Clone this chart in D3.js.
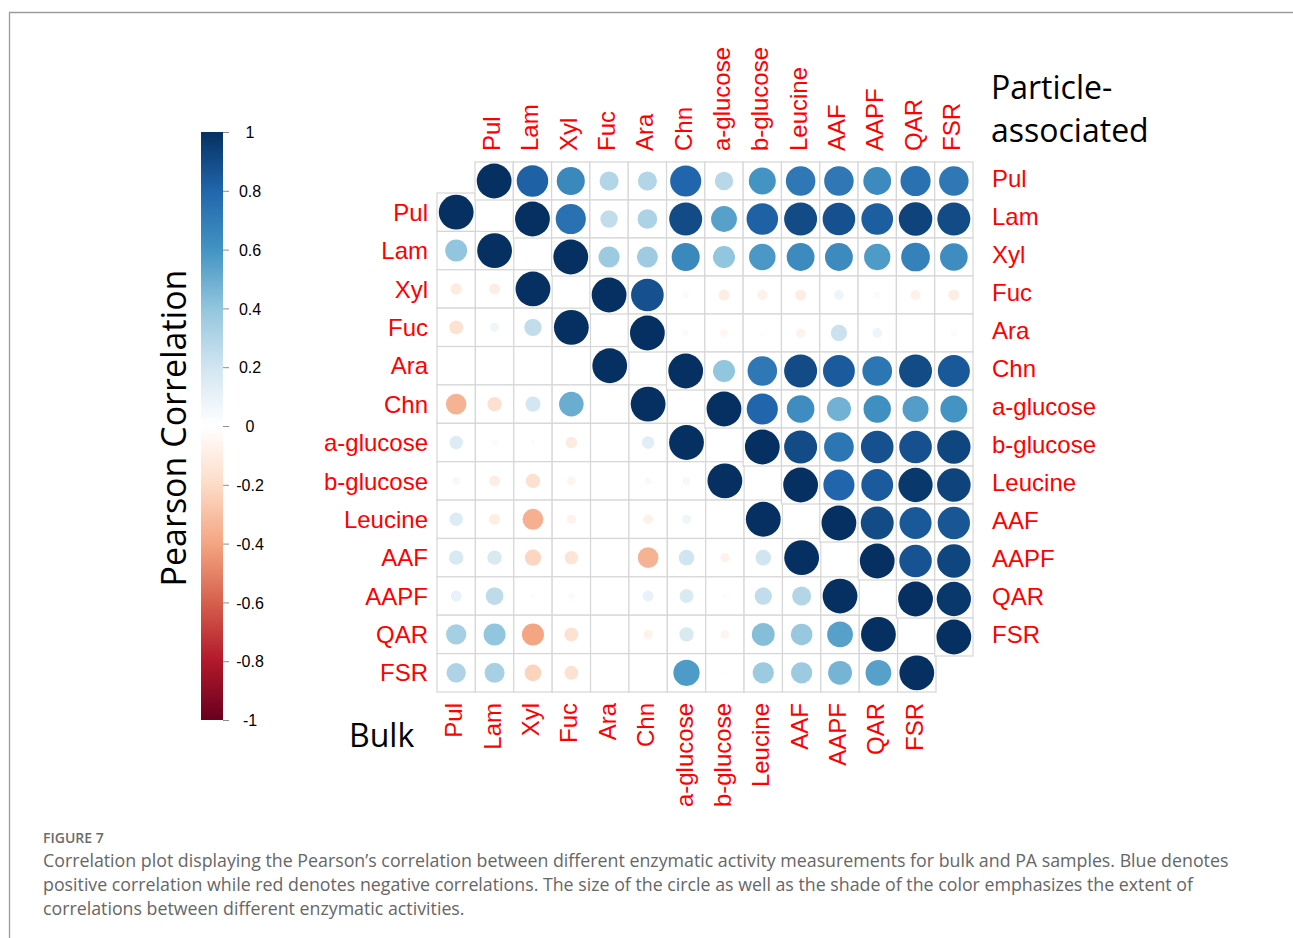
<!DOCTYPE html>
<html>
<head>
<meta charset="utf-8">
<script src="https://cdn.jsdelivr.net/npm/d3@7"></script>
<style>
  html, body { margin: 0; padding: 0; background: #fff; }
  svg { display: block; }
</style>
</head>
<body>
<svg id="fig" width="1293" height="938"></svg>
<script>
// Enzymatic activities (row / column order of both matrices)
const variables = ["Pul", "Lam", "Xyl", "Fuc", "Ara", "Chn", "a-glucose", "b-glucose", "Leucine", "AAF", "AAPF", "QAR", "FSR"];

// Particle-associated correlations: each row runs from the diagonal to FSR
const paPul   = [1, 0.82, 0.65, 0.30, 0.30, 0.80, 0.28, 0.60, 0.72, 0.72, 0.64, 0.75, 0.72];
const paLam   = [1, 0.75, 0.25, 0.32, 0.90, 0.55, 0.82, 0.90, 0.88, 0.83, 0.93, 0.90];
const paXyl   = [1, 0.37, 0.36, 0.65, 0.40, 0.58, 0.64, 0.64, 0.57, 0.68, 0.63];
const paFuc   = [1, 0.88, 0.03, -0.10, -0.08, -0.10, 0.08, -0.03, -0.08, -0.10];
const paAra   = [1, 0.03, -0.05, -0.02, -0.07, 0.22, 0.08, 0.00, -0.03];
const paChn   = [1, 0.40, 0.72, 0.90, 0.84, 0.73, 0.90, 0.85];
const paAglu  = [1, 0.80, 0.63, 0.48, 0.62, 0.56, 0.60];
const paBglu  = [1, 0.90, 0.73, 0.88, 0.88, 0.92];
const paLeu   = [1, 0.80, 0.84, 0.97, 0.93];
const paAAF   = [1, 0.90, 0.85, 0.86];
const paAAPF  = [1, 0.87, 0.92];
const paQAR   = [1, 0.97];
const paFSR   = [1];

// Bulk correlations: each row runs from Pul up to the diagonal
const bulkPul  = [1];
const bulkLam  = [0.40, 1];
const bulkXyl  = [-0.11, -0.10, 1];
const bulkFuc  = [-0.16, 0.07, 0.25, 1];
const bulkAra  = [0, 0, 0, 0, 1];
const bulkChn  = [-0.35, -0.17, 0.19, 0.50, 0, 1];
const bulkAglu = [0.15, -0.03, 0.02, -0.11, 0, 0.13, 1];
const bulkBglu = [0.05, -0.10, -0.17, -0.06, 0, 0.04, 0.05, 1];
const bulkLeu  = [0.15, -0.10, -0.36, -0.07, 0, -0.08, 0.07, 0.00, 1];
const bulkAAF  = [0.17, 0.17, -0.22, -0.15, 0, -0.35, 0.20, -0.07, 0.20, 1];
const bulkAAPF = [0.10, 0.26, 0.02, -0.03, 0, 0.10, 0.16, -0.02, 0.25, 0.30, 1];
const bulkQAR  = [0.34, 0.40, -0.40, -0.16, 0, -0.07, 0.17, -0.06, 0.43, 0.38, 0.55, 1];
const bulkFSR  = [0.31, 0.33, -0.23, -0.16, 0, 0.01, 0.57, 0.01, 0.37, 0.37, 0.47, 0.55, 1];

// Colour legend
const legendTicks = [-1, -0.8, -0.6, -0.4, -0.2, 0, 0.2, 0.4, 0.6, 0.8, 1];
const legendTickLabels = ["-1", "-0.8", "-0.6", "-0.4", "-0.2", "0", "0.2", "0.4", "0.6", "0.8", "1"];
const rdbu = ["#67001F", "#B2182B", "#D6604D", "#F4A582", "#FDDBC7", "#FFFFFF",
              "#D1E5F0", "#92C5DE", "#4393C3", "#2166AC", "#053061"];

const captionTitle = "FIGURE 7";
const captionLines = [
  "Correlation plot displaying the Pearson\u2019s correlation between different enzymatic activity measurements for bulk and PA samples. Blue denotes",
  "positive correlation while red denotes negative correlations. The size of the circle as well as the shade of the color emphasizes the extent of",
  "correlations between different enzymatic activities."
];

const paRows = [paPul, paLam, paXyl, paFuc, paAra, paChn, paAglu, paBglu, paLeu, paAAF, paAAPF, paQAR, paFSR];
const bulkRows = [bulkPul, bulkLam, bulkXyl, bulkFuc, bulkAra, bulkChn, bulkAglu, bulkBglu, bulkLeu, bulkAAF, bulkAAPF, bulkQAR, bulkFSR];

// Flatten into cell records
const paCells = [];
paRows.forEach((row, i) => row.forEach((v, k) => paCells.push({ r: variables[i], c: variables[i + k], v })));
const bulkCells = [];
bulkRows.forEach((row, i) => row.forEach((v, j) => bulkCells.push({ r: variables[i], c: variables[j], v })));

const svg = d3.select("#fig");
const labelFont = "'Liberation Sans', Arial, sans-serif";
const titleFont = "'Open Sans', 'Noto Sans', sans-serif";
const red = "#FF0000";

// Page frame
svg.append("path")
  .attr("d", "M9.5,938 V12.5 H1293")
  .attr("fill", "none").attr("stroke", "#9b9b9b").attr("stroke-width", 1.3);

// Scales
const color = d3.scaleLinear().domain(legendTicks).range(rdbu).interpolate(d3.interpolateRgb).clamp(true);
const radius = d3.scaleSqrt().domain([0, 1]).range([0, 17.4]);

const paX = d3.scaleBand().domain(variables).range([475, 973]);
const paY = d3.scaleBand().domain(variables).range([162, 656]);
const bulkX = d3.scaleBand().domain(variables).range([437, 936]);
const bulkY = d3.scaleBand().domain(variables).range([193, 692]);

function drawMatrix(cells, xs, ys, cls) {
  const g = svg.append("g").attr("class", cls);
  g.selectAll("rect").data(cells).join("rect")
    .attr("x", d => xs(d.c)).attr("y", d => ys(d.r))
    .attr("width", xs.bandwidth()).attr("height", ys.bandwidth())
    .attr("fill", "#fff").attr("stroke", "#d6d6d6").attr("stroke-width", 1.2);
  g.selectAll("circle").data(cells.filter(d => Math.abs(d.v) > 0)).join("circle")
    .attr("cx", d => xs(d.c) + xs.bandwidth() / 2)
    .attr("cy", d => ys(d.r) + ys.bandwidth() / 2)
    .attr("r", d => radius(Math.abs(d.v)))
    .attr("fill", d => color(d.v));
}
drawMatrix(bulkCells, bulkX, bulkY, "bulk");
drawMatrix(paCells, paX, paY, "pa");

// Variable labels
const labels = svg.append("g").attr("font-family", labelFont).attr("font-size", 24).attr("fill", red);

// Bulk rows (left)
labels.selectAll(".bl").data(variables).join("text")
  .attr("x", 428).attr("y", d => bulkY(d) + bulkY.bandwidth() / 2)
  .attr("dy", "0.36em").attr("text-anchor", "end").text(d => d);
// Bulk columns (bottom)
labels.selectAll(".bb").data(variables).join("text")
  .attr("transform", d => `translate(${bulkX(d) + bulkX.bandwidth() / 2 + 6},703) rotate(-90)`)
  .attr("text-anchor", "end").text(d => d);
// PA rows (right)
labels.selectAll(".pr").data(variables).join("text")
  .attr("x", 992).attr("y", d => paY(d) + paY.bandwidth() / 2)
  .attr("dy", "0.24em").attr("text-anchor", "start").text(d => d);
// PA columns (top)
labels.selectAll(".pt").data(variables).join("text")
  .attr("transform", d => `translate(${paX(d) + paX.bandwidth() / 2 + 6},151) rotate(-90)`)
  .attr("text-anchor", "start").text(d => d);

// Panel titles
const titles = svg.append("g").attr("font-family", titleFont).attr("font-size", 32).attr("fill", "#000");
titles.append("text").attr("x", 991).attr("y", 99).text("Particle-");
titles.append("text").attr("x", 991).attr("y", 142).text("associated");
titles.append("text").attr("x", 349).attr("y", 747).text("Bulk");

// Colour bar
const barY = d3.scaleLinear().domain([-1, 1]).range([720, 132]);
const defs = svg.append("defs");
const grad = defs.append("linearGradient").attr("id", "rdbu")
  .attr("x1", 0).attr("y1", 1).attr("x2", 0).attr("y2", 0);
grad.selectAll("stop").data(legendTicks).join("stop")
  .attr("offset", d => (d + 1) / 2).attr("stop-color", d => color(d));
svg.append("rect")
  .attr("x", 201).attr("y", barY(1)).attr("width", 22).attr("height", barY(-1) - barY(1))
  .attr("fill", "url(#rdbu)");

const barAxis = svg.append("g").attr("transform", "translate(223,0)")
  .call(d3.axisRight(barY).tickValues(legendTicks).tickSize(6).tickPadding(0)
    .tickFormat((d, i) => legendTickLabels[i]));
barAxis.select(".domain").remove();
barAxis.selectAll(".tick line").attr("stroke", "#8c8c8c");
barAxis.selectAll(".tick text")
  .attr("x", 27).attr("text-anchor", "middle").attr("dy", "0.36em")
  .attr("font-family", labelFont).attr("font-size", 16).attr("fill", "#000");

svg.append("text")
  .attr("transform", "translate(186,428) rotate(-90)")
  .attr("text-anchor", "middle")
  .attr("font-family", titleFont).attr("font-size", 34).attr("fill", "#000")
  .text("Pearson Correlation");

// Caption
svg.append("text").attr("x", 43).attr("y", 843)
  .attr("font-family", titleFont).attr("font-size", 14).attr("font-weight", 600)
  .attr("fill", "#6b6b6b").text(captionTitle);
svg.selectAll(".cap").data(captionLines).join("text")
  .attr("x", 43).attr("y", (d, i) => 867 + i * 24)
  .attr("font-family", titleFont).attr("font-size", 17.8).attr("fill", "#666")
  .text(d => d);
</script>
</body>
</html>
